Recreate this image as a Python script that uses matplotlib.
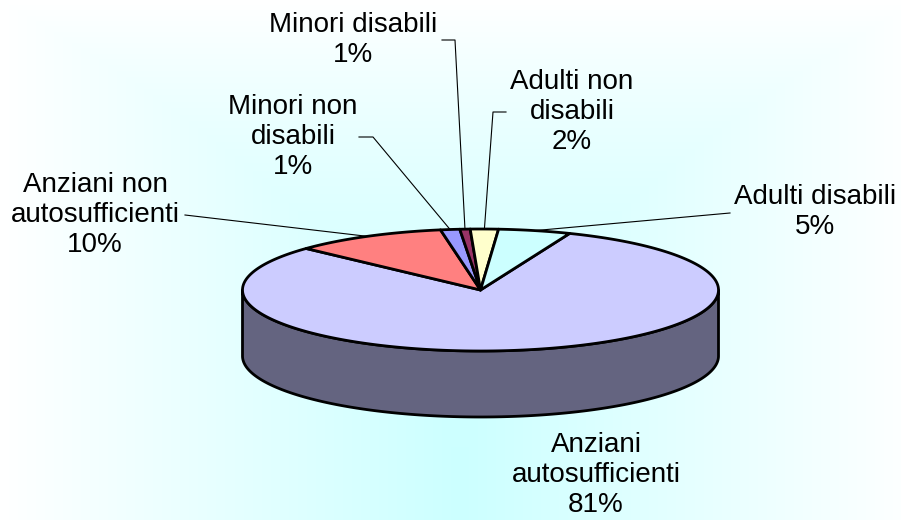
import numpy as np
import matplotlib
matplotlib.use("Agg")
import matplotlib.pyplot as plt
from matplotlib.patches import Polygon

# ---- data ----
categories = ["Anziani\nautosufficienti", "Anziani non\nautosufficienti",
              "Minori non\ndisabili", "Minori disabili", "Adulti non\ndisabili",
              "Adulti disabili"]
values = [80.8, 10.4, 1.3, 0.7, 1.9, 4.9]
colors = ["#CCCCFF", "#FF8080", "#9999FF", "#993366", "#FFFFCC", "#CCFFFF"]
side_color = "#646480"

# ---- layout (pixel coordinates) ----
W, H = 901, 520
cx, cy, rx, ry, depth = 480.5, 290, 238, 61, 66
start_angle = 68.0  # degrees, slices go clockwise

label_pos = [(596, 475), (95, 215), (293, 137), (353, 40), (572, 112), (815, 212)]
leader_paths = [None, [(185, 215)], [(359, 137), (373, 137)], [(442, 40), (455, 40)],
                [(506, 112), (493, 112)], [(730, 213)]]

plt.rcParams['font.family'] = ['Liberation Sans', 'DejaVu Sans']
fig = plt.figure(figsize=(W / 100, H / 100), dpi=100)
ax = fig.add_axes([0, 0, 1, 1])
ax.set_xlim(0, W)
ax.set_ylim(H, 0)
ax.axis('off')

# background gradient
xx, yy = np.meshgrid(np.arange(W) + 0.5, np.arange(H) + 0.5)
tx = np.abs(xx - 460) / 460
ty = ((H - yy) / H) ** 2
t = np.clip(np.maximum(tx, ty), 0, 1)
c0 = np.array([204, 255, 255]) / 255
c1 = np.array([255, 255, 255]) / 255
img = c0[None, None, :] * (1 - t[..., None]) + c1[None, None, :] * t[..., None]
ax.imshow(img, extent=(0, W, H, 0), zorder=0, aspect='auto')

def ell(theta_deg, dy=0):
    th = np.radians(theta_deg)
    return cx + rx * np.cos(th), cy - ry * np.sin(th) + dy

# side (front half)
th = np.linspace(180, 360, 200)
tx_, ty_ = ell(th)
bx, by = ell(th[::-1], depth)
side = Polygon(np.column_stack([np.r_[tx_, bx], np.r_[ty_, by]]), closed=True,
               facecolor=side_color, edgecolor='black', lw=2, zorder=2, joinstyle='round')
ax.add_patch(side)

# top wedges
total = sum(values)
a = start_angle
mids = []
for v, col in zip(values, colors):
    span = 360 * v / total
    a2 = a - span
    th = np.linspace(a, a2, max(int(span * 2), 4))
    px, py = ell(th)
    poly = Polygon(np.column_stack([np.r_[cx, px], np.r_[cy, py]]), closed=True,
                   facecolor=col, edgecolor='black', lw=2, zorder=3, joinstyle='round')
    ax.add_patch(poly)
    mids.append((a + a2) / 2)
    a = a2

# labels and leader lines
for i, (cat, v) in enumerate(zip(categories, values)):
    lx, ly = label_pos[i]
    ax.text(lx, ly, f"{cat}\n{int(round(v))}%", ha='center', va='center',
            fontsize=20, linespacing=1.2, zorder=5, color='black')
    if leader_paths[i] is not None:
        ex, ey = ell(mids[i])
        pts = leader_paths[i] + [(ex, ey)]
        ax.plot([p[0] for p in pts], [p[1] for p in pts], color='black', lw=0.8, zorder=4)

fig.savefig("out.png", dpi=100)
